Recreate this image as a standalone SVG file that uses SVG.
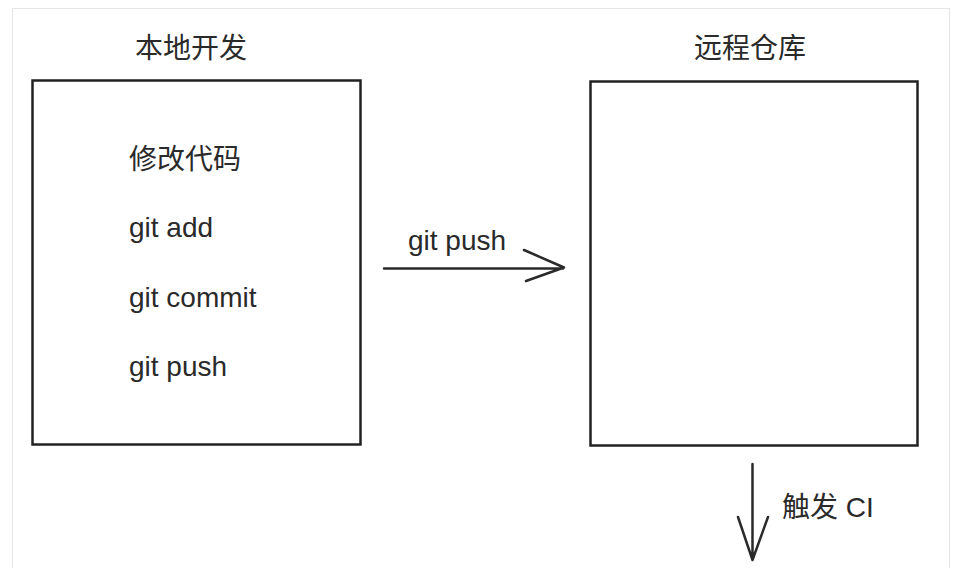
<svg xmlns="http://www.w3.org/2000/svg" width="960" height="568" viewBox="0 0 960 568">
<style>
.t{font-family:"Liberation Sans","Noto Sans CJK SC",sans-serif;font-size:28px;fill:#2a2a2a}
.box{fill:#fff;stroke:#222;stroke-width:2.5}
.ln{fill:none;stroke:#2a2a2a;stroke-width:2.5;stroke-linecap:round;stroke-linejoin:round}
</style>
<rect width="960" height="568" fill="#fff"/>
<path d="M12.5 568V8.5H949.5V568" fill="none" stroke="#e6e6e6" stroke-width="1.2"/>
<g id="local">
<text class="t" x="191" y="58" text-anchor="middle">本地开发</text>
<rect class="box" x="32.5" y="80.5" width="328" height="364"/>
<text class="t" x="129" y="169">修改代码</text>
<text class="t" x="129" y="237">git add</text>
<text class="t" x="129" y="307">git commit</text>
<text class="t" x="129" y="376">git push</text>
</g>
<g id="remote">
<text class="t" x="750" y="58" text-anchor="middle">远程仓库</text>
<rect class="box" x="590.5" y="81.5" width="327" height="364"/>
</g>
<g id="connectors">
<path class="ln" d="M384 268.5H563M524 250L564 267.5L526 281"/>
<text class="t" x="408" y="250">git push</text>
<path class="ln" d="M752.5 464V559M738 517L752.5 560L768 517"/>
<text class="t" x="782" y="517">触发 CI</text>
</g>
</svg>
